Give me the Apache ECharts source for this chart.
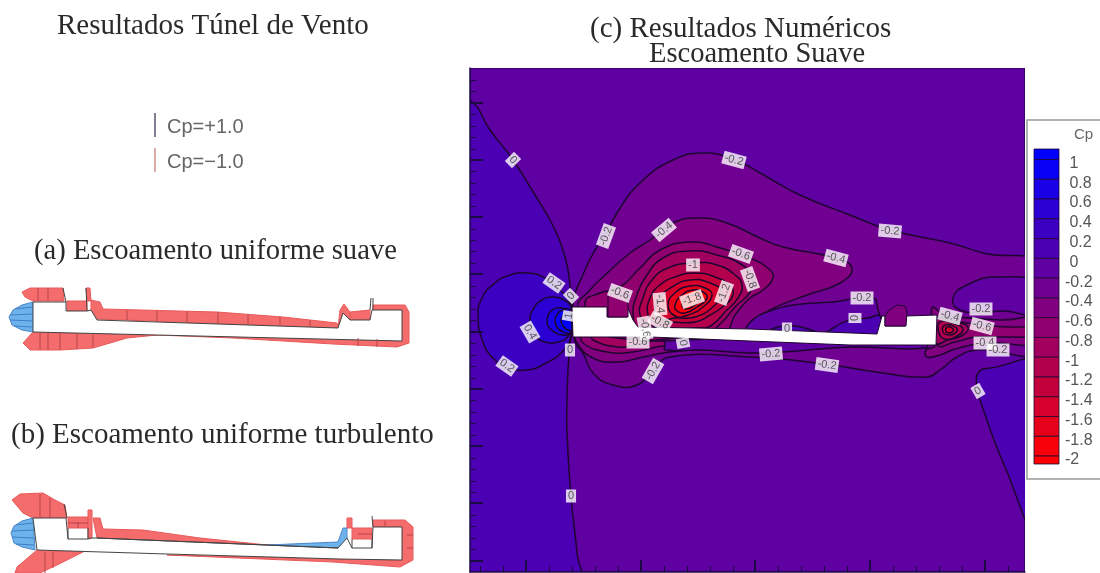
<!DOCTYPE html>
<html>
<head>
<meta charset="utf-8">
<style>html,body{margin:0;padding:0;background:#fff}#main{width:1100px;height:573px}</style>
<script src="https://cdn.jsdelivr.net/npm/echarts@6/dist/echarts.min.js"></script>
</head>
<body>
<div id="main"></div>
<script>
// axes of the contour plot carry no numbers in the source, so plot units are read off the picture
const xMajor = [526, 641, 755, 870, 985];
const xMinor = [480, 503, 549, 572, 595, 618, 664, 687, 710, 733, 778, 801, 824, 847, 893, 916, 939, 962, 1008];
const yMajor = [103, 160, 217, 274, 332, 389, 446, 503, 561];
const yMinor = [80, 91, 114, 126, 137, 149, 171, 183, 194, 206, 229, 240, 251, 263, 286, 297, 309, 320, 343, 355, 366, 378, 400, 412, 423, 435, 458, 469, 481, 492, 515, 526, 538, 549];

const cpLevels = [1, 0.8, 0.6, 0.4, 0.2, 0, -0.2, -0.4, -0.6, -0.8, -1, -1.2, -1.4, -1.6, -1.8, -2];
const barTops = [1.106, 1, 0.8, 0.6, 0.4, 0.2, 0, -0.2, -0.4, -0.6, -0.8, -1, -1.2, -1.4, -1.6, -1.8, -2];
const barBottoms = [1, 0.8, 0.6, 0.4, 0.2, 0, -0.2, -0.4, -0.6, -0.8, -1, -1.2, -1.4, -1.6, -1.8, -2, -2.08];

// contour outlines
const farField = [[470, 68], [1025, 68], [1025, 572], [470, 572]];
const zeroLeft = [[470, 100], [490, 130], [513, 160], [535, 195], [550, 220], [555, 230], [563, 250], [568, 270], [571, 295], [573, 320], [570, 345], [568, 370], [567, 400], [567, 433], [571, 497], [577, 553], [579, 590], [450, 590], [450, 100]];
const zeroRight = [[1040, 367], [990, 368], [978, 373], [977, 387], [980, 400], [1005, 467], [1040, 540]];
const posTwo = [[478, 317], [482, 298], [495, 283], [510, 275], [527, 273], [545, 278], [560, 290], [570, 302], [572, 320], [570, 340], [562, 352], [548, 362], [527, 370], [507, 367], [493, 358], [483, 342]];
const posFour = [[530, 320], [534, 308], [542, 300], [552, 297], [562, 299], [570, 305], [572, 320], [569, 335], [558, 342], [545, 342], [535, 335]];
const posSix = [[547, 320], [550, 312], [557, 308], [566, 309], [571, 312], [571, 332], [562, 335], [553, 331], [548, 326]];
const posEight = [[555, 320], [558, 313], [563, 310], [570, 310], [571, 332], [563, 332], [557, 327]];
const posOne = [[561, 320], [564, 315], [567, 313], [572, 313], [572, 330], [568, 330], [563, 326]];

const negTwoMain = [[573, 305], [585, 270], [597, 247], [603, 240], [617, 213], [640, 183], [673, 160], [703, 153], [733, 159], [760, 173], [800, 195], [850, 215], [890, 230], [950, 243], [983, 253], [1040, 267], [1040, 349], [977, 350], [957, 357], [940, 370], [927, 377], [883, 373], [817, 363], [750, 357], [670, 357], [653, 370], [637, 385], [613, 385], [593, 373], [583, 353], [575, 342]];
const islandRight = [[1040, 285], [997, 277], [967, 285], [953, 298], [960, 310], [985, 312], [1003, 311], [1040, 313]];
const islandDeck = [[745, 330], [755, 318], [767, 312], [793, 305], [833, 302], [873, 298], [878, 310], [880, 318], [880, 338], [745, 338]];
const islandKeel = [[665, 345], [665, 350], [700, 350], [750, 353], [783, 352], [850, 347], [925, 348], [925, 340], [665, 340]];
const zeroDeck = [[826, 336], [838, 325], [850, 320], [868, 318], [880, 316], [880, 336]];
const zeroMid = [[770, 330], [787, 326], [805, 328], [815, 333], [775, 333]];

const negFourMain = [[578, 308], [590, 290], [603, 277], [630, 253], [650, 240], [673, 223], [700, 218], [727, 223], [760, 238], [783, 247], [835, 258], [852, 268], [840, 283], [807, 295], [770, 310], [750, 325], [740, 335], [600, 335]];
const negSixMain = [[585, 303], [600, 293], [620, 287], [640, 268], [660, 250], [690, 242], [717, 247], [750, 258], [770, 270], [773, 278], [763, 290], [750, 298], [735, 315], [725, 330], [600, 335]];
const negEightMain = [[633, 313], [637, 295], [645, 278], [663, 258], [690, 251], [717, 255], [742, 265], [752, 278], [750, 292], [735, 307], [722, 322], [710, 330], [640, 330]];
const negTenMain = [[640, 315], [643, 298], [652, 280], [668, 268], [693, 263], [717, 265], [735, 275], [742, 285], [738, 298], [725, 312], [712, 325], [700, 328], [650, 325]];
const negTwelveMain = [[648, 315], [650, 298], [660, 285], [675, 277], [695, 273], [715, 277], [730, 286], [733, 295], [725, 305], [710, 315], [695, 322], [670, 322], [655, 322]];
const negFourteenMain = [[655, 315], [660, 298], [672, 287], [690, 280], [710, 283], [722, 292], [715, 305], [695, 317], [675, 318], [662, 320]];
const negSixteenMain = [[668, 305], [675, 293], [690, 286], [705, 288], [712, 295], [703, 307], [688, 315], [675, 316]];
const negEighteenMain = [[675, 305], [682, 295], [693, 290], [703, 292], [707, 298], [697, 307], [685, 313], [677, 311]];
const negTwentyMain = [[682, 304], [688, 297], [696, 295], [701, 298], [695, 305], [686, 309]];

const keelFour = [[577, 343], [593, 358], [617, 362], [643, 357], [670, 352], [703, 349], [740, 345], [740, 335], [577, 335]];
const keelSix = [[583, 343], [607, 352], [633, 352], [657, 347], [680, 342], [583, 335]];
const keelEight = [[593, 340], [617, 347], [630, 346], [650, 340], [593, 335]];
const noseBlob = [[608, 317], [608, 295], [616, 293], [628, 298], [628, 317]];
const deckBlob = [[885, 326], [885, 317], [888, 311], [897, 305], [905, 306], [907, 312], [906, 326]];
const wakeFour = [[932, 308], [945, 315], [970, 318], [1000, 320], [1040, 320], [1040, 342], [985, 343], [955, 349], [940, 355], [927, 357], [926, 350], [935, 345]];
const wakeSix = [[937, 318], [955, 321], [982, 325], [1010, 327], [1040, 328], [1040, 335], [1000, 337], [975, 337], [955, 342], [937, 345]];
const wakeEight = [[936, 320], [955, 322], [968, 327], [963, 335], [948, 340], [936, 343]];
const wakeTen = [[940, 322], [955, 324], [963, 329], [957, 336], [945, 339], [939, 333]];
const wakeTwelve = [[945, 325], [955, 327], [957, 331], [950, 335], [943, 332]];
const wakeFourteen = [[947, 327], [952, 328], [953, 331], [949, 333], [946, 331]];

const hullOutline = [[572, 307], [607, 307], [607, 317], [627, 317], [627, 306], [633, 320], [638, 327], [750, 329], [877, 334], [882, 316], [885, 316], [885, 326], [905, 326], [906, 316], [937, 315], [936, 345], [850, 345], [750, 341], [650, 337], [573, 337]];

// [x, y, text, rotation]
const contourLabels = [
  [513, 160, '0', -45], [734, 160, '-0.2', -15], [890, 231, '-0.2', -5], [606, 236, '-0.2', 70],
  [664, 230, '-0.4', 40], [741, 254, '-0.6', -20], [750, 279, '-0.8', -70], [836, 258, '-0.4', -15],
  [693, 265, '-1', 0], [724, 293, '-1.2', 70], [692, 299, '-1.8', 20], [660, 304, '-1.4', -85],
  [620, 293, '-0.6', -20], [554, 283, '0.2', -35], [571, 296, '0', 45], [569, 316, '1', 80],
  [530, 332, '0.4', -60], [570, 350, '0', 0], [507, 366, '0.2', -35], [660, 322, '-0.8', -30],
  [645, 328, '-0.6', -80], [638, 342, '-0.6', 0], [683, 343, '0', -80], [653, 371, '-0.2', 60],
  [787, 329, '0', 0], [855, 318, '0', 90], [862, 298, '-0.2', 0], [771, 354, '-0.2', 5],
  [827, 365, '-0.2', -8], [950, 316, '-0.4', -15], [981, 309, '-0.2', 0], [982, 326, '-0.6', -15],
  [985, 343, '-0.4', 0], [998, 350, '-0.2', 0], [978, 391, '0', 30], [571, 496, '0', 0]
];

// wind tunnel profile (a)
const aHull = [[33, 302], [66, 302], [66, 311], [87, 311], [91, 310], [97, 320], [338, 328], [343, 313], [350, 320], [370, 320], [372, 310], [402, 310], [402, 341], [157, 335], [33, 332]];
const aTopLobe = [[22, 292], [30, 288], [63, 288], [64, 301], [33, 301], [25, 297]];
const aDeckBox = [[67, 301], [87, 301], [87, 311], [67, 311]];
const aFinRed = [[86, 288], [90, 288], [91, 301], [87, 301]];
const aDeckBand = [[91, 300], [100, 302], [103, 309], [217, 312], [283, 317], [337, 323], [338, 328], [97, 319], [91, 310]];
const aAftFin = [[340, 310], [344, 304], [350, 312], [350, 320], [343, 320], [338, 328]];
const aAftBox = [[350, 312], [370, 310], [370, 320], [350, 320]];
const aAftWrap = [[373, 305], [405, 305], [409, 312], [409, 343], [397, 347], [333, 344], [233, 338], [157, 335], [233, 336], [402, 341], [402, 310], [373, 310]];
const aBottomLobe = [[33, 332], [157, 335], [127, 338], [93, 348], [60, 350], [30, 350], [23, 343]];
const aNose = [[33, 302], [22, 305], [13, 310], [9, 317], [12, 325], [22, 330], [33, 332]];
const aRedTicks = [
  [[38, 288], [38, 301]], [[48, 288], [48, 301]], [[40, 333], [40, 349]], [[48, 333], [48, 350]], [[60, 333], [60, 350]],
  [[77, 334], [77, 349]], [[93, 335], [93, 347]], [[127, 310], [127, 320]], [[157, 311], [157, 321]], [[187, 311], [187, 322]],
  [[218, 312], [218, 323]], [[248, 314], [248, 324]], [[280, 317], [280, 325]], [[310, 320], [310, 326]], [[358, 338], [358, 346]], [[377, 339], [377, 347]]
];
const aBlueTicks = [[[15, 309], [33, 307]], [[10, 315], [33, 314]], [[10, 320], [33, 321]], [[14, 326], [33, 327]]];
const aDarkTicks = [[[63, 288], [66, 302]], [[370, 310], [371, 298]], [[373, 298], [373, 310]], [[86, 288], [87, 311]]];

// wind tunnel profile (b)
const bHull = [[33, 518], [66, 518], [68, 539], [88, 539], [92, 538], [97, 538], [338, 548], [347, 538], [352, 548], [372, 548], [373, 527], [402, 527], [402, 560], [340, 559], [167, 554], [37, 550]];
const bTopLobe = [[12, 500], [20, 494], [43, 493], [55, 500], [65, 505], [67, 518], [33, 518], [23, 513]];
const bDeckBox = [[68, 517], [88, 517], [88, 528], [68, 528]];
const bFinRed = [[88, 510], [92, 510], [92, 538], [88, 538]];
const bDeckBand = [[93, 518], [100, 518], [103, 529], [143, 530], [200, 538], [267, 545], [97, 538]];
const bBlueBand = [[267, 545], [338, 542], [343, 528], [347, 528], [347, 538], [340, 548], [300, 547]];
const bAftFin = [[347, 518], [352, 518], [352, 528], [347, 528]];
const bAftBox = [[352, 528], [372, 528], [372, 539], [352, 539]];
const bAftWrap = [[373, 520], [405, 520], [413, 527], [413, 560], [400, 567], [333, 562], [167, 555], [340, 559], [402, 560], [402, 527], [373, 527]];
const bBottomLobe = [[37, 550], [83, 552], [57, 565], [40, 573], [15, 573], [17, 567]];
const bNose = [[33, 518], [22, 521], [14, 526], [11, 533], [14, 543], [22, 547], [35, 550]];
const bRedTicks = [
  [[40, 494], [40, 518]], [[50, 498], [50, 518]], [[45, 552], [45, 573]], [[53, 552], [53, 568]], [[78, 522], [78, 528]],
  [[68, 523], [88, 523]], [[358, 534], [372, 534]], [[385, 521], [385, 527]], [[407, 535], [413, 535]], [[407, 548], [413, 548]]
];
const bBlueTicks = [[[16, 525], [33, 523]], [[12, 531], [34, 530]], [[12, 537], [34, 538]], [[16, 544], [34, 545]]];
const bDarkTicks = [[[64, 504], [67, 518]], [[68, 528], [68, 539]], [[88, 528], [88, 539]], [[352, 539], [352, 548]], [[372, 539], [372, 548]], [[372, 516], [373, 527]], [[97, 538], [338, 548]]];

const legendPlus = [[155, 113], [155, 137]];
const legendMinus = [[155, 148], [155, 172]];

function cpColor(v) {
  var t = Math.max(0, Math.min(1, (v + 2) / 3));
  return 'rgb(' + Math.round(255 * (1 - t)) + ',0,' + Math.round(255 * t) + ')';
}

// painted back to front, first value is the middle of the band inside the outline
const regions = [
  [0.1, zeroLeft], [0.1, zeroRight], [0.3, posTwo], [0.5, posFour], [0.7, posSix], [0.9, posEight], [1.0, posOne],
  [-0.3, negTwoMain], [-0.1, islandRight], [-0.5, wakeFour], [-0.7, wakeSix], [-0.9, wakeEight], [-1.1, wakeTen], [-1.3, wakeTwelve], [-1.5, wakeFourteen],
  [-0.5, keelFour], [-0.7, keelSix], [-0.9, keelEight], [-0.1, islandKeel],
  [-0.5, negFourMain], [-0.7, negSixMain], [-0.9, negEightMain], [-1.1, negTenMain], [-1.3, negTwelveMain], [-1.5, negFourteenMain], [-1.7, negSixteenMain], [-1.9, negEighteenMain], [-2, negTwentyMain],
  [-0.1, islandDeck], [0.1, zeroDeck], [0.1, zeroMid]
];
const blobs = [[-0.7, noseBlob], [-0.5, deckBlob]];

const RED = '#f46c6c', BLUE = '#6db2ea';
const profileShapes = [
  [aTopLobe, RED], [aBottomLobe, RED], [aDeckBox, RED], [aFinRed, RED], [aDeckBand, RED], [aAftFin, RED], [aAftBox, RED], [aAftWrap, RED], [aNose, BLUE],
  [bTopLobe, RED], [bBottomLobe, RED], [bDeckBox, RED], [bFinRed, RED], [bDeckBand, RED], [bBlueBand, BLUE], [bAftFin, RED], [bAftBox, RED], [bAftWrap, RED], [bNose, BLUE]
];

function polygonSeries(list, xi, yi, fillOf, strokeOf, width, z, smooth) {
  return {
    type: 'custom', xAxisIndex: xi, yAxisIndex: yi, z: z, silent: true,
    data: list.map(function (r, i) { return [i, i]; }),
    renderItem: function (params, api) {
      var r = list[params.dataIndex];
      var pts = fillOf(r).points.map(function (p) { return api.coord(p); });
      var cs = params.coordSys;
      return {
        type: 'polygon', shape: { points: pts, smooth: smooth || 0 },
        clipPath: { type: 'rect', shape: { x: cs.x, y: cs.y, width: cs.width, height: cs.height } },
        style: { fill: fillOf(r).fill, stroke: strokeOf(r), lineWidth: width }
      };
    }
  };
}

function segmentSeries(list, color, width, z) {
  return {
    type: 'custom', xAxisIndex: 0, yAxisIndex: 0, z: z, silent: true,
    data: list.map(function (r, i) { return [i, i]; }),
    renderItem: function (params, api) {
      var pts = list[params.dataIndex].map(function (p) { return api.coord(p); });
      return { type: 'polyline', shape: { points: pts }, style: { fill: null, stroke: color, lineWidth: width } };
    }
  };
}

const frameColor = '#1c0a45';
function plotAxis(position, min, max, ticks, len, inverse, showLine) {
  return {
    type: 'value', gridIndex: 1, position: position, min: min, max: max, inverse: inverse, z: 10,
    axisLine: { show: showLine, lineStyle: { color: frameColor, width: 1.5 } },
    axisTick: { show: true, inside: true, length: len, customValues: ticks, lineStyle: { color: frameColor, width: len > 8 ? 2 : 1 } },
    axisLabel: { show: false }, splitLine: { show: false }
  };
}
function hiddenAxis(grid, min, max, inverse) {
  return { type: 'value', gridIndex: grid, min: min, max: max, inverse: inverse, show: false, splitLine: { show: false } };
}

function heading(text, left, top, size) {
  return { text: text, left: left, top: top, padding: 0, textStyle: { fontFamily: 'Liberation Serif', fontWeight: 'normal', fontSize: size, color: '#2a2a2a' } };
}
function sansText(text, left, top, size) {
  return { text: text, left: left, top: top, padding: 0, textStyle: { fontFamily: 'Liberation Sans', fontWeight: 'normal', fontSize: size, color: '#666' } };
}

var chart = echarts.init(document.getElementById('main'));
chart.setOption({
  animation: false,
  backgroundColor: '#fff',
  title: [
    heading('Resultados Túnel de Vento', 57, 12, 29),
    heading('(c) Resultados Numéricos', 590, 15, 29),
    heading('Escoamento Suave', 649, 40, 28.5),
    heading('(a) Escoamento uniforme suave', 34, 237, 28.6),
    heading('(b) Escoamento uniforme turbulento', 11, 421, 29),
    sansText('Cp=+1.0', 167, 117, 20),
    sansText('Cp=−1.0', 167, 152, 20),
    sansText('Cp', 1074, 127, 15)
  ],
  graphic: [{ type: 'rect', shape: { x: 1027, y: 120, width: 80, height: 359 }, style: { fill: '#fff', stroke: '#999', lineWidth: 1.5 }, z: -1 }],
  grid: [
    { left: 0, top: 0, width: 460, height: 573 },
    { left: 470, top: 68, width: 555, height: 504 },
    { left: 1034, top: 149, width: 25, height: 315 },
    { left: 1034, top: 153, width: 25, height: 315 }
  ],
  xAxis: [
    hiddenAxis(0, 0, 460, false),
    plotAxis('bottom', 470, 1025, xMajor, 12, false, true),
    plotAxis('bottom', 470, 1025, xMinor, 6, false, false),
    hiddenAxis(2, 0, 1, false),
    hiddenAxis(3, 0, 1, false)
  ],
  yAxis: [
    hiddenAxis(0, 0, 573, true),
    plotAxis('left', 68, 572, yMajor, 13, true, true),
    plotAxis('left', 68, 572, yMinor, 6, true, false),
    hiddenAxis(2, -2.08, 1.106, false),
    {
      type: 'value', gridIndex: 3, position: 'right', min: -2.08, max: 1.106, z: 10,
      axisLine: { show: false }, axisTick: { show: false }, splitLine: { show: false },
      axisLabel: {
        show: true, customValues: cpLevels, margin: 6, align: 'left',
        fontFamily: 'Liberation Sans', fontSize: 16, color: '#555',
        formatter: function (v) { return (v < 0 ? '' : '\u00a0') + v; }
      }
    }
  ],
  series: [
    // wind tunnel profiles
    polygonSeries(profileShapes, 0, 0, function (r) { return { points: r[0], fill: r[1] }; }, function (r) { return r[1] === BLUE ? '#4a86cc' : '#e85a5a'; }, 1, 2),
    polygonSeries([aHull, bHull], 0, 0, function (r) { return { points: r, fill: '#fff' }; }, function () { return '#444'; }, 1, 3),
    segmentSeries(aRedTicks.concat(bRedTicks), '#b8444c', 1, 4),
    segmentSeries(aBlueTicks.concat(bBlueTicks), '#3f7fc8', 1, 4),
    segmentSeries(aDarkTicks.concat(bDarkTicks), '#444', 1, 4),
    segmentSeries([legendPlus], '#56566e', 1.5, 4),
    segmentSeries([legendMinus], '#cf8f8c', 1.5, 4),
    // filled contours
    polygonSeries([farField], 1, 1, function (r) { return { points: r, fill: cpColor(-0.1) }; }, function () { return frameColor; }, 1.2, 1),
    polygonSeries(regions, 1, 1, function (r) { return { points: r[1], fill: cpColor(r[0]) }; }, function () { return '#1e0530'; }, 1.5, 2, 0.5),
    polygonSeries([hullOutline], 1, 1, function (r) { return { points: r, fill: '#fff' }; }, function () { return '#1e0530'; }, 1, 3),
    polygonSeries(blobs, 1, 1, function (r) { return { points: r[1], fill: cpColor(r[0]) }; }, function () { return '#1e0530'; }, 1, 4),
    {
      type: 'scatter', xAxisIndex: 1, yAxisIndex: 1, z: 6, symbolSize: 1, silent: true,
      itemStyle: { color: 'transparent' },
      data: contourLabels.map(function (l) {
        return {
          value: [l[0], l[1]],
          label: {
            show: true, position: 'inside', formatter: l[2], rotate: l[3],
            fontFamily: 'Liberation Sans', fontSize: 11, color: '#333',
            backgroundColor: '#fff', padding: [1, 2]
          }
        };
      })
    },
    // colour bar
    {
      type: 'custom', xAxisIndex: 3, yAxisIndex: 3, z: 3, silent: true,
      data: barTops.map(function (v, i) { return [i, v]; }),
      renderItem: function (params, api) {
        var top = barTops[params.dataIndex], next = barBottoms[params.dataIndex];
        var a = api.coord([0, top]), b = api.coord([1, next]);
        return {
          type: 'rect', shape: { x: a[0], y: a[1], width: b[0] - a[0], height: b[1] - a[1] },
          style: { fill: cpColor((top + next) / 2), stroke: '#1e0530', lineWidth: 0.8 }
        };
      }
    }
  ]
});
</script>
</body>
</html>
